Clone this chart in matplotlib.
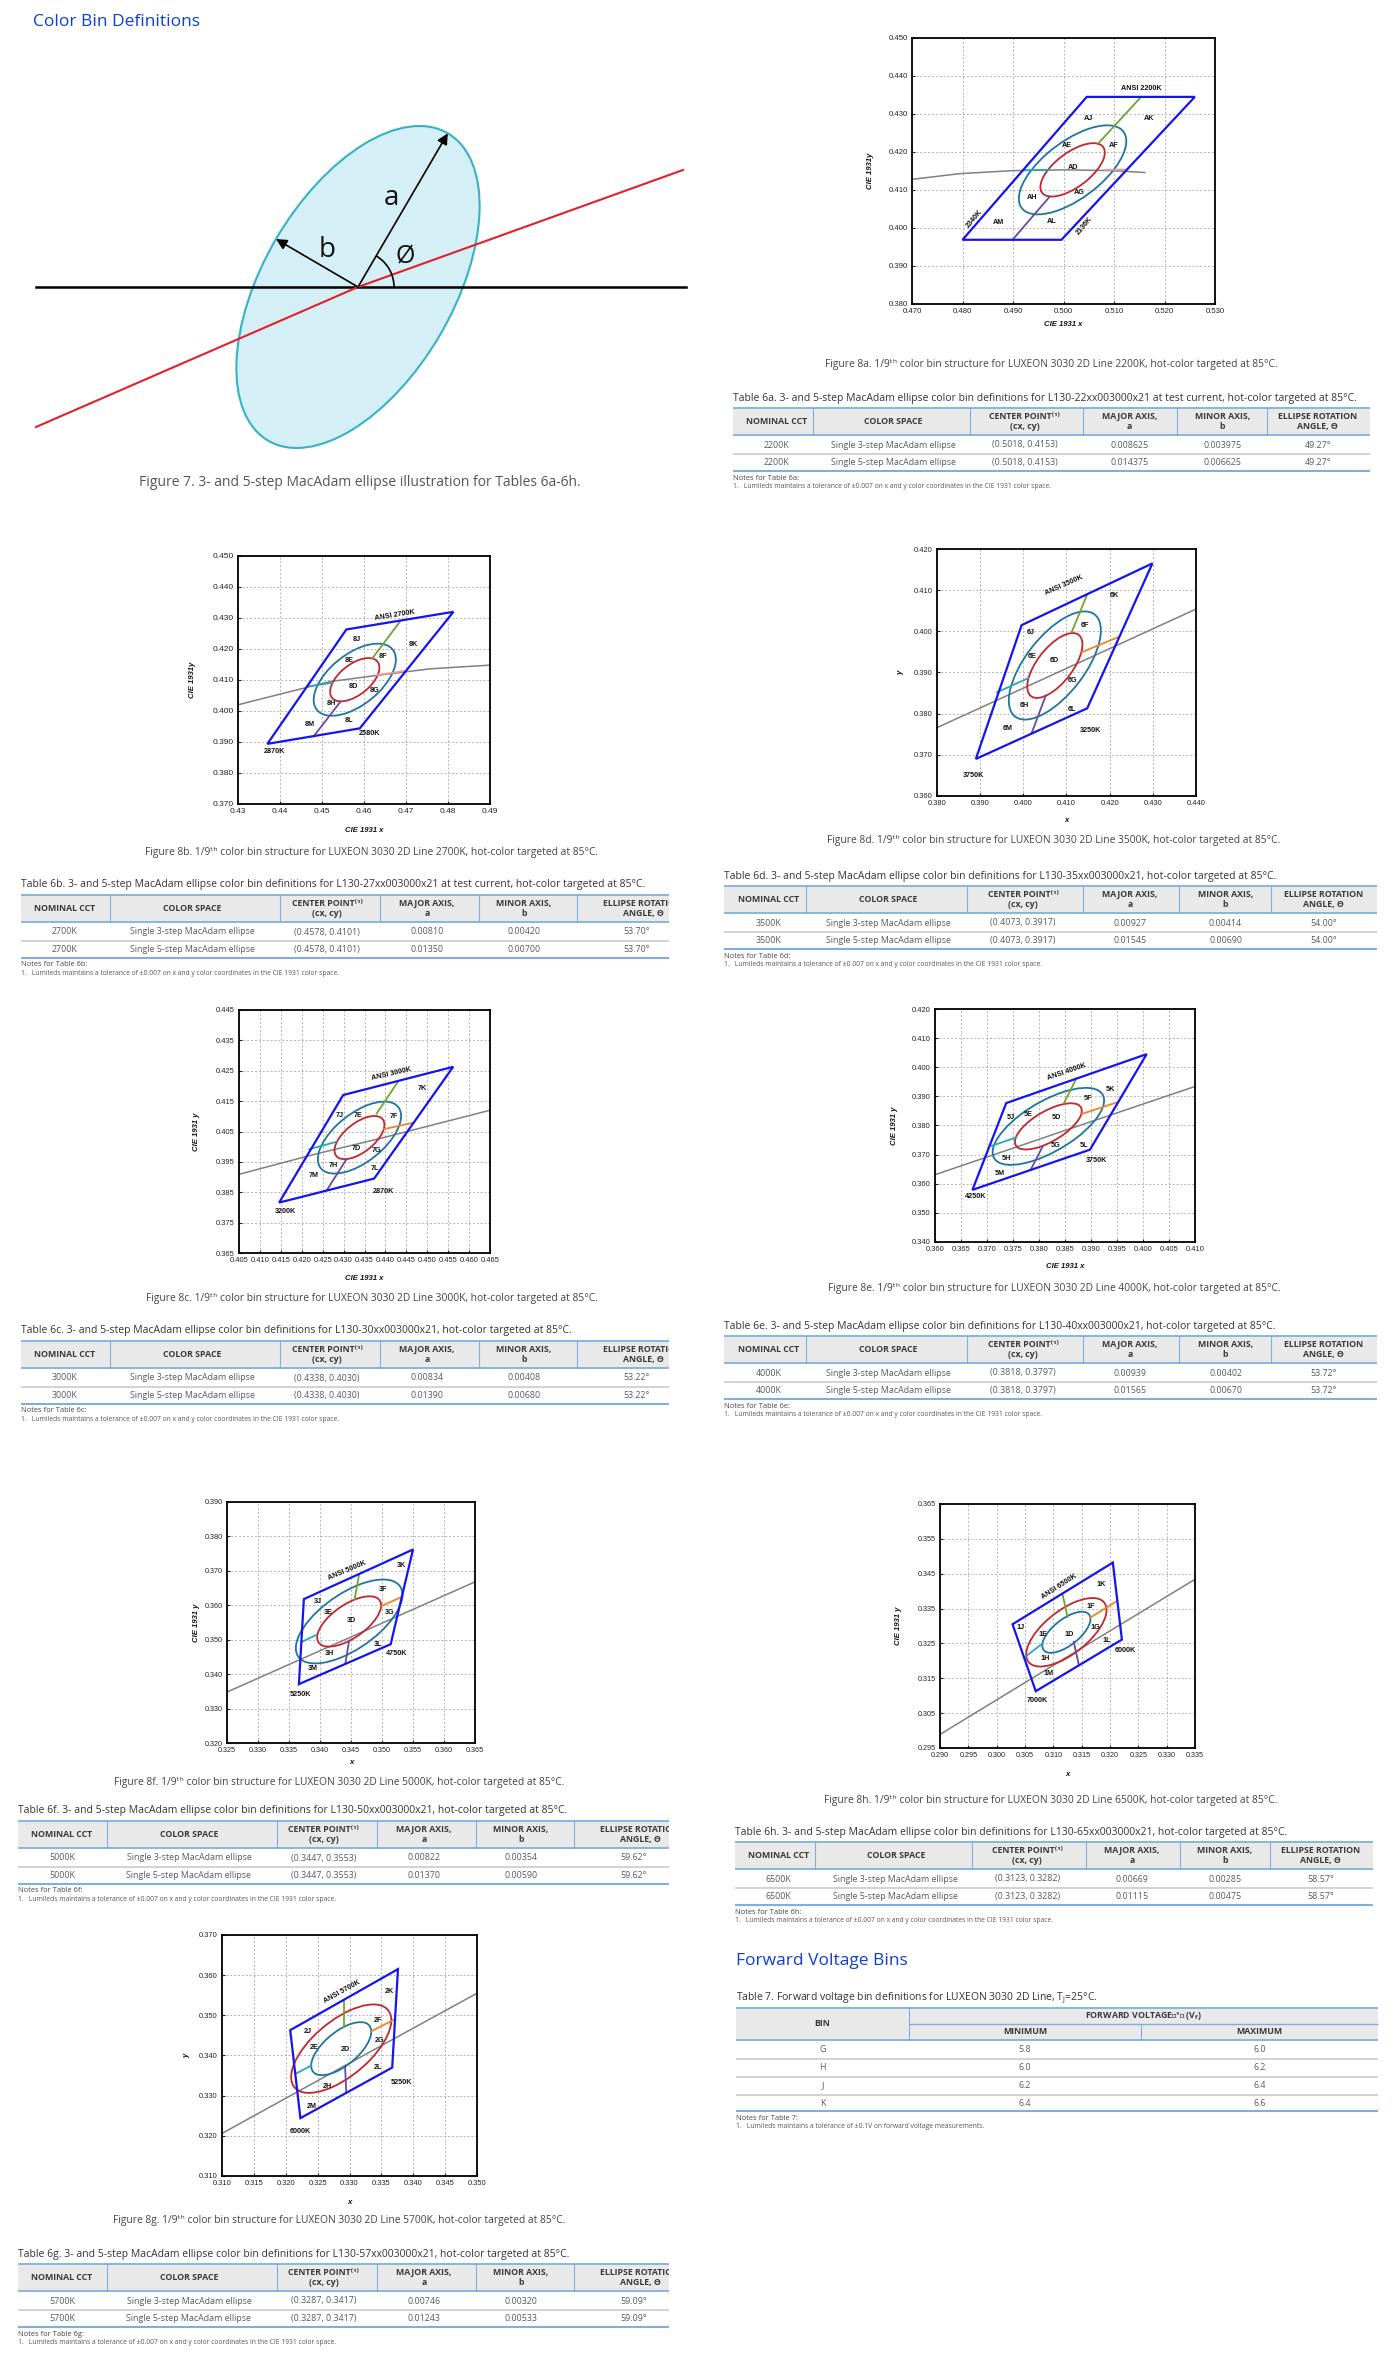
import matplotlib
matplotlib.use("Agg")
import matplotlib.pyplot as plt
from matplotlib.patches import Ellipse, Polygon, Rectangle, Arc
import numpy as np

plt.rcParams['font.family'] = ['Open Sans', 'DejaVu Sans']

W, H = 1400, 2361

# ======================= DATA =======================
CCT = ["2200K", "2700K", "3000K", "3500K", "4000K", "5000K", "5700K", "6500K"]
FIG_LETTER = ["a", "b", "c", "d", "e", "f", "g", "h"]
PART = ["22", "27", "30", "35", "40", "50", "57", "65"]
CENTER_X = ["0.5018", "0.4578", "0.4338", "0.4073", "0.3818", "0.3447", "0.3287", "0.3123"]
CENTER_Y = ["0.4153", "0.4101", "0.4030", "0.3917", "0.3797", "0.3553", "0.3417", "0.3282"]
MAJOR3 = ["0.008625", "0.00810", "0.00834", "0.00927", "0.00939", "0.00822", "0.00746", "0.00669"]
MINOR3 = ["0.003975", "0.00420", "0.00408", "0.00414", "0.00402", "0.00354", "0.00320", "0.00285"]
MAJOR5 = ["0.014375", "0.01350", "0.01390", "0.01545", "0.01565", "0.01370", "0.01243", "0.01115"]
MINOR5 = ["0.006625", "0.00700", "0.00680", "0.00690", "0.00670", "0.00590", "0.00533", "0.00475"]
ANGLE = ["49.27", "53.70", "53.22", "54.00", "53.72", "59.62", "59.09", "58.57"]
COLOR_SPACE = ["Single 3-step MacAdam ellipse", "Single 5-step MacAdam ellipse"]

# Chart 8a - 2200K
QUAD_2200 = [(0.4800, 0.3969), (0.5046, 0.4345), (0.5260, 0.4345), (0.4996, 0.3969)]
GRAY_2200 = [(0.470, 0.4128), (0.4794, 0.4143), (0.4900, 0.4151), (0.5001, 0.4153), (0.5098, 0.4151), (0.5161, 0.4146)]
SEG_2200 = [((0.4921, 0.4152), (0.4972, 0.4153)), ((0.5083, 0.4153), (0.5125, 0.4154)),
            ((0.5069, 0.4223), (0.5153, 0.4344)), ((0.4973, 0.4083), (0.4899, 0.3969))]
BINS_2200 = [("AJ", 0.5049, 0.4287), ("AK", 0.5170, 0.4287), ("AE", 0.5006, 0.4216), ("AF", 0.5100, 0.4216),
             ("AD", 0.5019, 0.4160), ("AH", 0.4937, 0.4081), ("AG", 0.5032, 0.4094), ("AM", 0.4872, 0.4014),
             ("AL", 0.4976, 0.4016)]
EDGE_2200 = [("ANSI 2200K", 0.5155, 0.4367, 0), ("2340K", 0.4824, 0.4024, 50), ("2136K", 0.5042, 0.4006, 50)]

# Chart 8b - 2700K
QUAD_2700 = [(0.4370, 0.3894), (0.4558, 0.4263), (0.4813, 0.4320), (0.4590, 0.3944)]
GRAY_2700 = [(0.430, 0.4020), (0.4399, 0.4054), (0.4519, 0.4095), (0.4638, 0.4116), (0.4757, 0.4136), (0.490, 0.4148)]
SEG_2700 = [((0.4465, 0.4079), (0.4525, 0.4091)), ((0.4630, 0.4116), (0.4701, 0.4130)),
            ((0.4620, 0.4170), (0.4687, 0.4291)), ((0.4544, 0.4030), (0.4480, 0.3918))]
BINS_2700 = [("8J", 0.4582, 0.4231), ("8K", 0.4717, 0.4216), ("8E", 0.4566, 0.4162), ("8F", 0.4646, 0.4177),
             ("8D", 0.4576, 0.4079), ("8G", 0.4626, 0.4065), ("8H", 0.4523, 0.4025), ("8M", 0.4471, 0.3958),
             ("8L", 0.4564, 0.3969)]
EDGE_2700 = [("ANSI 2700K", 0.4674, 0.4309, 9), ("2580K", 0.4614, 0.3926, 0), ("2870K", 0.4387, 0.3868, 0)]

# Chart 8c - 3000K
QUAD_3000 = [(0.4146, 0.3816), (0.4299, 0.4170), (0.4562, 0.4263), (0.4373, 0.3895)]
GRAY_3000 = [(0.405, 0.3909), (0.4228, 0.3974), (0.4387, 0.4027), (0.465, 0.4120)]
SEG_3000 = [((0.4218, 0.3992), (0.4283, 0.4016)), ((0.4397, 0.4058), (0.4467, 0.4079)),
            ((0.4379, 0.4109), (0.4431, 0.4216)), ((0.4307, 0.3959), (0.4260, 0.3857))]
BINS_3000 = [("7K", 0.4489, 0.4190), ("7J", 0.4290, 0.4102), ("7E", 0.4334, 0.4102), ("7F", 0.4421, 0.4098),
             ("7D", 0.4331, 0.3994), ("7G", 0.4379, 0.3986), ("7H", 0.4275, 0.3937), ("7L", 0.4375, 0.3928),
             ("7M", 0.4228, 0.3906)]
EDGE_3000 = [("ANSI 3000K", 0.4415, 0.4241, 13), ("2870K", 0.4395, 0.3853, 0), ("3200K", 0.4162, 0.3787, 0)]

# Chart 8d - 3500K
QUAD_3500 = [(0.3890, 0.3690), (0.3996, 0.4015), (0.4299, 0.4165), (0.4148, 0.3813)]
GRAY_3500 = [(0.380, 0.3766), (0.410, 0.3910), (0.440, 0.4054)]
SEG_3500 = [((0.3939, 0.3852), (0.4011, 0.3886)), ((0.4135, 0.3949), (0.4222, 0.3987)),
            ((0.4112, 0.3998), (0.4148, 0.4090)), ((0.4052, 0.3844), (0.4019, 0.3752))]
BINS_3500 = [("6K", 0.4212, 0.4088), ("6J", 0.4017, 0.3998), ("6F", 0.4143, 0.4014), ("6E", 0.4021, 0.3938),
             ("6D", 0.4071, 0.3930), ("6G", 0.4115, 0.3880), ("6H", 0.4003, 0.3821), ("6L", 0.4112, 0.3811),
             ("6M", 0.3965, 0.3763)]
EDGE_3500 = [("ANSI 3500K", 0.4095, 0.4111, 24), ("3250K", 0.4156, 0.3759, 0), ("3750K", 0.3884, 0.3651, 0)]

# Chart 8e - 4000K
QUAD_4000 = [(0.3672, 0.3579), (0.3737, 0.3877), (0.4007, 0.4045), (0.3898, 0.3717)]
GRAY_4000 = [(0.360, 0.3631), (0.385, 0.3783), (0.410, 0.3934)]
SEG_4000 = [((0.3709, 0.3730), (0.3756, 0.3759)), ((0.3883, 0.3840), (0.3951, 0.3880)),
            ((0.3848, 0.3877), (0.3872, 0.3962)), ((0.3807, 0.3728), (0.3784, 0.3648))]
BINS_4000 = [("5K", 0.3938, 0.3925), ("5F", 0.3895, 0.3891), ("5J", 0.3746, 0.3829), ("5E", 0.3780, 0.3837),
             ("5D", 0.3833, 0.3827), ("5G", 0.3831, 0.3730), ("5L", 0.3887, 0.3731), ("5H", 0.3737, 0.3685),
             ("5M", 0.3725, 0.3634)]
EDGE_4000 = [("ANSI 4000K", 0.3853, 0.3985, 19), ("3750K", 0.3910, 0.3679, 0), ("4250K", 0.3679, 0.3557, 0)]

# Chart 8f - 5000K
QUAD_5000 = [(0.3366, 0.3371), (0.3374, 0.3618), (0.3550, 0.3762), (0.3514, 0.3487)]
GRAY_5000 = [(0.325, 0.3348), (0.345, 0.3508), (0.365, 0.3668)]
SEG_5000 = [((0.3370, 0.3493), (0.3394, 0.3514)), ((0.3499, 0.3598), (0.3533, 0.3625)),
            ((0.3456, 0.3618), (0.3463, 0.3690)), ((0.3447, 0.3497), (0.3441, 0.3432))]
BINS_5000 = [("3K", 0.3532, 0.3717), ("3F", 0.3502, 0.3646), ("3J", 0.3396, 0.3611), ("3E", 0.3413, 0.3578),
             ("3D", 0.3451, 0.3555), ("3G", 0.3513, 0.3578), ("3L", 0.3494, 0.3487), ("3H", 0.3416, 0.3459),
             ("3M", 0.3388, 0.3417)]
EDGE_5000 = [("ANSI 5000K", 0.3444, 0.3700, 23), ("4750K", 0.3524, 0.3461, 0), ("5250K", 0.3368, 0.3340, 0)]

# Chart 8g - 5700K
QUAD_5700 = [(0.3223, 0.3244), (0.3207, 0.3463), (0.3376, 0.3615), (0.3367, 0.3370)]
GRAY_5700 = [(0.310, 0.3206), (0.330, 0.3381), (0.350, 0.3555)]
SEG_5700 = [((0.3215, 0.3354), (0.3240, 0.3375)), ((0.3335, 0.3461), (0.3372, 0.3491)),
            ((0.3292, 0.3472), (0.3292, 0.3538)), ((0.3293, 0.3374), (0.3295, 0.3307))]
BINS_5700 = [("2K", 0.3363, 0.3559), ("2F", 0.3344, 0.3487), ("2J", 0.3234, 0.3459), ("2E", 0.3245, 0.3420),
             ("2D", 0.3293, 0.3414), ("2G", 0.3347, 0.3437), ("2L", 0.3344, 0.3371), ("2H", 0.3265, 0.3322),
             ("2M", 0.3241, 0.3274)]
EDGE_5700 = [("ANSI 5700K", 0.3288, 0.3559, 29), ("5250K", 0.3381, 0.3333, 0), ("6000K", 0.3223, 0.3212, 0)]

# Chart 8h - 6500K
QUAD_6500 = [(0.3069, 0.3113), (0.3028, 0.3305), (0.3205, 0.3482), (0.3221, 0.3261)]
GRAY_6500 = [(0.290, 0.2989), (0.3125, 0.3212), (0.335, 0.3434)]
SEG_6500 = [((0.3050, 0.3211), (0.3081, 0.3250)), ((0.3165, 0.3324), (0.3213, 0.3372)),
            ((0.3125, 0.3326), (0.3116, 0.3393)), ((0.3136, 0.3255), (0.3145, 0.3188))]
BINS_6500 = [("1K", 0.3184, 0.3420), ("1F", 0.3166, 0.3355), ("1J", 0.3043, 0.3295), ("1E", 0.3081, 0.3277),
             ("1D", 0.3128, 0.3277), ("1G", 0.3175, 0.3296), ("1L", 0.3195, 0.3259), ("1H", 0.3086, 0.3207),
             ("1M", 0.3091, 0.3165)]
EDGE_6500 = [("ANSI 6500K", 0.3111, 0.3414, 33), ("6000K", 0.3228, 0.3229, 0), ("7000K", 0.3071, 0.3087, 0)]

# Table 7
VF_BIN = ["G", "H", "J", "K"]
VF_MIN = [5.8, 6.0, 6.2, 6.4]
VF_MAX = [6.0, 6.2, 6.4, 6.6]

# Figure 7 illustration geometry (pixel units)
F7_CENTER = (358, 287)
F7_A, F7_B, F7_PHI = 178, 95, 59.7

# ======================= LAYOUT =======================
BLUE_HEAD = '#0b3fd1'
TBL_BLUE = '#7fb0dd'
TXT = '#333333'
GRAYTXT = '#5a5a5a'
F_TITLE = 7.5
F_HEAD = 6.3
F_ROW = 6.4
F_NOTE_H = 5.4
F_NOTE = 4.9
F_CAP = 7.4

fig = plt.figure(figsize=(W / 100, H / 100), dpi=100)
ax0 = fig.add_axes([0, 0, 1, 1])
ax0.set_xlim(0, W)
ax0.set_ylim(H, 0)
ax0.axis('off')

# ---- headings
ax0.text(33, 22, "Color Bin Definitions", fontsize=12.5, color=BLUE_HEAD, va='center', ha='left')
ax0.text(736, 1961, "Forward Voltage Bins", fontsize=12.5, color=BLUE_HEAD, va='center', ha='left')

# ---- Figure 7
cx7, cy7 = F7_CENTER
ax0.add_patch(Ellipse(F7_CENTER, 2 * F7_A, 2 * F7_B, angle=-F7_PHI, fc='#d4eff6', ec='#36b2c8', lw=1.5, zorder=1))
ax0.plot([36, 686], [cy7, cy7], color='black', lw=1.8, zorder=2)
ax0.plot([36, cx7, 683], [427, cy7, 170], color='#e3202a', lw=1.5, zorder=3)
ra = np.radians(F7_PHI)
ax0.annotate('', xy=(cx7 + F7_A * np.cos(ra), cy7 - F7_A * np.sin(ra)), xytext=F7_CENTER,
             arrowprops=dict(arrowstyle='-|>', color='black', lw=1.2, mutation_scale=16, shrinkA=0, shrinkB=0), zorder=4)
rb = np.radians(F7_PHI + 90)
ax0.annotate('', xy=(cx7 + F7_B * np.cos(rb), cy7 - F7_B * np.sin(rb)), xytext=F7_CENTER,
             arrowprops=dict(arrowstyle='-|>', color='black', lw=1.2, mutation_scale=16, shrinkA=0, shrinkB=0), zorder=4)
ax0.add_patch(Arc(F7_CENTER, 72, 72, theta1=-F7_PHI, theta2=0, color='black', lw=1.2, zorder=4))
ax0.text(391, 198, "a", fontsize=20, ha='center', va='center', color='#111')
ax0.text(327, 250, "b", fontsize=20, ha='center', va='center', color='#111')
ax0.text(405, 257, "Ø", fontsize=18, ha='center', va='center', color='#111')
ax0.text(360, 482, "Figure 7. 3- and 5-step MacAdam ellipse illustration for Tables 6a-6h.",
         fontsize=10, color='#555', ha='center', va='center')

# ---- charts
CHARTS = [
    dict(box=(912, 38, 1215, 304), xlim=(0.470, 0.530), ylim=(0.380, 0.450), xs=0.01, ys=0.01, xf="%.3f", yf="%.3f",
         ylab="CIE 1931y", xlab="CIE 1931 x", ylx=870, xly=325, quad=QUAD_2200, gray=GRAY_2200, segs=SEG_2200,
         bins=BINS_2200, edges=EDGE_2200, seg2='#f19a96', inner='#c1272d', outer='#1d76a1', fs=5.6),
    dict(box=(238, 556, 490, 804), xlim=(0.43, 0.49), ylim=(0.370, 0.450), xs=0.01, ys=0.01, xf="%.2f", yf="%.3f",
         ylab="CIE 1931y", xlab="CIE 1931 x", ylx=193, xly=830, quad=QUAD_2700, gray=GRAY_2700, segs=SEG_2700,
         bins=BINS_2700, edges=EDGE_2700, seg2='#f19a96', inner='#c1272d', outer='#1d76a1', fs=6.0),
    dict(box=(239, 1010, 490, 1253), xlim=(0.405, 0.465), ylim=(0.365, 0.445), xs=0.005, ys=0.01, xf="%.3f", yf="%.3f",
         ylab="CIE 1931 y", xlab="CIE 1931 x", ylx=197, xly=1278, quad=QUAD_3000, gray=GRAY_3000, segs=SEG_3000,
         bins=BINS_3000, edges=EDGE_3000, seg2='#f58220', inner='#c1272d', outer='#1d76a1', fs=5.4),
    dict(box=(937, 549, 1196, 796), xlim=(0.380, 0.440), ylim=(0.360, 0.420), xs=0.01, ys=0.01, xf="%.3f", yf="%.3f",
         ylab="y", xlab="x", ylx=901, xly=820, quad=QUAD_3500, gray=GRAY_3500, segs=SEG_3500,
         bins=BINS_3500, edges=EDGE_3500, seg2='#f58220', inner='#c1272d', outer='#1d76a1', fs=5.4),
    dict(box=(935, 1009, 1195, 1242), xlim=(0.360, 0.410), ylim=(0.340, 0.420), xs=0.005, ys=0.01, xf="%.3f", yf="%.3f",
         ylab="CIE 1931 y", xlab="CIE 1931 x", ylx=895, xly=1267, quad=QUAD_4000, gray=GRAY_4000, segs=SEG_4000,
         bins=BINS_4000, edges=EDGE_4000, seg2='#f58220', inner='#c1272d', outer='#1d76a1', fs=5.4),
    dict(box=(227, 1502, 475, 1743), xlim=(0.325, 0.365), ylim=(0.320, 0.390), xs=0.005, ys=0.01, xf="%.3f", yf="%.3f",
         ylab="CIE 1931 y", xlab="x", ylx=197, xly=1763, quad=QUAD_5000, gray=GRAY_5000, segs=SEG_5000,
         bins=BINS_5000, edges=EDGE_5000, seg2='#f58220', inner='#c1272d', outer='#1d76a1', fs=5.2),
    dict(box=(222, 1935, 477, 2176), xlim=(0.310, 0.350), ylim=(0.310, 0.370), xs=0.005, ys=0.01, xf="%.3f", yf="%.3f",
         ylab="y", xlab="x", ylx=187, xly=2203, quad=QUAD_5700, gray=GRAY_5700, segs=SEG_5700,
         bins=BINS_5700, edges=EDGE_5700, seg2='#f58220', inner='#1d76a1', outer='#c1272d', fs=5.4),
    dict(box=(940, 1504, 1195, 1748), xlim=(0.290, 0.335), ylim=(0.295, 0.365), xs=0.005, ys=0.01, xf="%.3f", yf="%.3f",
         ylab="CIE 1931 y", xlab="x", ylx=898, xly=1775, quad=QUAD_6500, gray=GRAY_6500, segs=SEG_6500,
         bins=BINS_6500, edges=EDGE_6500, seg2='#f58220', inner='#1d76a1', outer='#c1272d', fs=5.2),
]
CAPTION_POS = [(1051, 364), (372, 853), (372, 1298), (1054, 840), (1054, 1289), (339, 1782), (339, 2220), (1051, 1800)]
SEG_COLORS = ['#2aa7b4', None, '#6fa530', '#6b4a9b']
CHART_FONT = 'Liberation Sans'


def ticks(lo, hi, step):
    n = int(round((hi - lo) / step))
    return [round(lo + k * step, 4) for k in range(n + 1)]


for i, c in enumerate(CHARTS):
    l, t, r, b = c['box']
    ax = fig.add_axes([l / W, 1 - b / H, (r - l) / W, (b - t) / H])
    ax.set_xlim(*c['xlim'])
    ax.set_ylim(*c['ylim'])
    xt = ticks(c['xlim'][0], c['xlim'][1], c['xs'])
    yt = ticks(c['ylim'][0], c['ylim'][1], c['ys'])
    ax.set_xticks(xt, labels=[c['xf'] % v for v in xt], fontsize=c['fs'], fontfamily=CHART_FONT)
    ax.set_yticks(yt, labels=[c['yf'] % v for v in yt], fontsize=c['fs'], fontfamily=CHART_FONT)
    ax.tick_params(length=2.5, width=0.8, direction='in', pad=3, colors='#222')
    ax.grid(True, color='#b3b3b3', linestyle=(0, (2, 2)), linewidth=0.7)
    ax.set_axisbelow(True)
    for s in ax.spines.values():
        s.set_linewidth(1.3)
        s.set_color('black')
    gx, gy = zip(*c['gray'])
    ax.plot(gx, gy, color='#808080', lw=1.1, zorder=2)
    cx, cy = float(CENTER_X[i]), float(CENTER_Y[i])
    ang = float(ANGLE[i])
    ax.add_patch(Ellipse((cx, cy), 2 * float(MAJOR5[i]), 2 * float(MINOR5[i]), angle=ang,
                         fill=False, ec=c['outer'], lw=1.3, zorder=3))
    ax.add_patch(Ellipse((cx, cy), 2 * float(MAJOR3[i]), 2 * float(MINOR3[i]), angle=ang,
                         fill=False, ec=c['inner'], lw=1.3, zorder=3))
    for k, (p0, p1) in enumerate(c['segs']):
        col = SEG_COLORS[k] if SEG_COLORS[k] else c['seg2']
        ax.plot([p0[0], p1[0]], [p0[1], p1[1]], color=col, lw=1.3, zorder=3)
    ax.add_patch(Polygon(c['quad'], closed=True, fill=False, ec='#1414f0', lw=1.6, zorder=4,
                         joinstyle='miter'))
    for (s, x, y) in c['bins']:
        ax.text(x, y, s, fontsize=5.2, fontweight='bold', fontfamily=CHART_FONT, ha='center', va='center',
                color='#111', zorder=6)
    for (s, x, y, rot) in c['edges']:
        ax.text(x, y, s, fontsize=5.2, fontweight='bold', fontfamily=CHART_FONT, ha='center', va='center',
                rotation=rot, rotation_mode='anchor', color='#111', zorder=6)
    # axis labels
    ax0.text(c['ylx'], (t + b) / 2, c['ylab'], rotation=90, fontsize=5.6, fontweight='bold', fontstyle='italic',
             fontfamily=CHART_FONT, ha='center', va='center', color='#111')
    ax0.text((l + r) / 2, c['xly'], c['xlab'], fontsize=5.6, fontweight='bold', fontstyle='italic',
             fontfamily=CHART_FONT, ha='center', va='center', color='#111')
    # caption
    cxp, cyp = CAPTION_POS[i]
    ax0.text(cxp, cyp, "Figure 8%s. 1/9ᵗʰ color bin structure for LUXEON 3030 2D Line %s, hot-color targeted at 85°C."
             % (FIG_LETTER[i], CCT[i]), fontsize=F_CAP, color='#444', ha='center', va='center')

# ---- tables 6a-6h
LEFT_DIV = [89, 259, 359, 458, 556]
LEFT_CTR = [44, 171, 306, 406, 503, 622]
RIGHT_DIV = [0.125, 0.372, 0.550, 0.697, 0.838]
RIGHT_CTR = [0.068, 0.252, 0.458, 0.622, 0.768, 0.918]
HEADERS = ["NOMINAL CCT", "COLOR SPACE", "CENTER POINT⁽¹⁾\n(cx, cy)", "MAJOR AXIS,\na", "MINOR AXIS,\nb",
           "ELLIPSE ROTATION\nANGLE, Θ"]
TABLE_POS = [(398, 733, 1370), (885, 21, None), (1331, 21, None), (876, 724, 1377), (1326, 724, 1377),
             (1811, 18, None), (2254, 18, None), (1832, 735, 1373)]
CLIP_X = 669


def hline(x0, x1, y, color, lw):
    ax0.plot([x0, x1], [y, y], color=color, lw=lw, solid_capstyle='butt')


def clipped(tx, clip):
    if clip is not None:
        tx.set_clip_path(clip)
        tx.set_clip_on(True)


for i in range(8):
    T, L, R = TABLE_POS[i]
    if R is None:
        R = CLIP_X
        divs = [L + d for d in LEFT_DIV]
        ctrs = [L + d for d in LEFT_CTR]
    else:
        divs = [L + f * (R - L) for f in RIGHT_DIV]
        ctrs = [L + f * (R - L) for f in RIGHT_CTR]
    cond = " at test current," if i < 2 else ","
    title = ("Table 6%s. 3- and 5-step MacAdam ellipse color bin definitions for L130-%sxx003000x21%s hot-color "
             "targeted at 85°C." % (FIG_LETTER[i], PART[i], cond))
    ax0.text(L, T, title, fontsize=F_TITLE, color=TXT, ha='left', va='center')
    top, hb, r1, sp, r2, bt = T + 9.5, T + 37, T + 47, T + 55.5, T + 64.5, T + 73
    clip = Rectangle((0, 0), CLIP_X, H, transform=ax0.transData) if L < 100 else None
    ax0.add_patch(Rectangle((L, top), R - L, hb - top, fc='#e9e9e9', ec='none'))
    hline(L, R, top, TBL_BLUE, 1.3)
    hline(L, R, hb, TBL_BLUE, 1.3)
    for d in divs:
        ax0.plot([d, d], [top, hb], color=TBL_BLUE, lw=0.8)
    for k, h in enumerate(HEADERS):
        tx = ax0.text(ctrs[k], (top + hb) / 2, h, fontsize=F_HEAD, fontweight='bold', color='#3a3a3a',
                      ha='center', va='center', linespacing=1.1)
        clipped(tx, clip)
    rows = [[CCT[i], COLOR_SPACE[0], "(%s, %s)" % (CENTER_X[i], CENTER_Y[i]), MAJOR3[i], MINOR3[i], ANGLE[i] + "°"],
            [CCT[i], COLOR_SPACE[1], "(%s, %s)" % (CENTER_X[i], CENTER_Y[i]), MAJOR5[i], MINOR5[i], ANGLE[i] + "°"]]
    for yy, row in zip([r1, r2], rows):
        for k, v in enumerate(row):
            tx = ax0.text(ctrs[k] - (6 if (k == 5 and clip is not None) else 0), yy, v, fontsize=F_ROW,
                          color=GRAYTXT, ha='center', va='center')
            clipped(tx, clip)
    hline(L, R, sp, '#d2d2d2', 1.4)
    hline(L, R, bt, TBL_BLUE, 1.5)
    ax0.text(L, T + 80, "Notes for Table 6%s:" % FIG_LETTER[i], fontsize=F_NOTE_H, color='#444', ha='left', va='center')
    ax0.text(L, T + 88.5, "1.   Lumileds maintains a tolerance of ±0.007 on x and y color coordinates in the CIE 1931 color space.",
             fontsize=F_NOTE, color='#555', ha='left', va='center')

# ---- Table 7
L7, D1, D2, R7 = 736, 909, 1141, 1378
T7 = 1998
ax0.text(L7, T7, "Table 7. Forward voltage bin definitions for LUXEON 3030 2D Line, T$_\\mathregular{j}$=25°C.",
         fontsize=F_TITLE, color=TXT, ha='left', va='center')
top7, mid7, hb7 = 2008, 2024, 2040
ax0.add_patch(Rectangle((L7, top7), R7 - L7, hb7 - top7, fc='#e9e9e9', ec='none'))
hline(L7, R7, top7, TBL_BLUE, 1.3)
hline(D1, R7, mid7, TBL_BLUE, 1.0)
hline(L7, R7, hb7, TBL_BLUE, 1.3)
ax0.plot([D1, D1], [top7, hb7], color=TBL_BLUE, lw=0.8)
ax0.plot([D2, D2], [mid7, hb7], color=TBL_BLUE, lw=0.8)
ax0.text((L7 + D1) / 2, (top7 + hb7) / 2, "BIN", fontsize=F_HEAD, fontweight='bold', color='#3a3a3a', ha='center', va='center')
ax0.text((D1 + R7) / 2, (top7 + mid7) / 2, "FORWARD VOLTAGE⁽¹⁾ (V$_\\mathregular{f}$)", fontsize=F_HEAD, fontweight='bold',
         color='#3a3a3a', ha='center', va='center')
ax0.text((D1 + D2) / 2, (mid7 + hb7) / 2, "MINIMUM", fontsize=F_HEAD, fontweight='bold', color='#3a3a3a', ha='center', va='center')
ax0.text((D2 + R7) / 2, (mid7 + hb7) / 2, "MAXIMUM", fontsize=F_HEAD, fontweight='bold', color='#3a3a3a', ha='center', va='center')
row_y = [2050, 2068, 2086, 2103]
for k in range(len(VF_BIN)):
    ax0.text((L7 + D1) / 2, row_y[k], VF_BIN[k], fontsize=F_ROW, color=GRAYTXT, ha='center', va='center')
    ax0.text((D1 + D2) / 2, row_y[k], "%.1f" % VF_MIN[k], fontsize=F_ROW, color=GRAYTXT, ha='center', va='center')
    ax0.text((D2 + R7) / 2, row_y[k], "%.1f" % VF_MAX[k], fontsize=F_ROW, color=GRAYTXT, ha='center', va='center')
    if k < len(VF_BIN) - 1:
        hline(L7, R7, (row_y[k] + row_y[k + 1]) / 2, '#d2d2d2', 1.4)
hline(L7, R7, 2111, TBL_BLUE, 1.5)
ax0.text(L7, 2118.5, "Notes for Table 7:", fontsize=F_NOTE_H, color='#444', ha='left', va='center')
ax0.text(L7, 2127, "1.   Lumileds maintains a tolerance of ±0.1V on forward voltage measurements.",
         fontsize=F_NOTE, color='#555', ha='left', va='center')

fig.savefig("out.png", dpi=100)
